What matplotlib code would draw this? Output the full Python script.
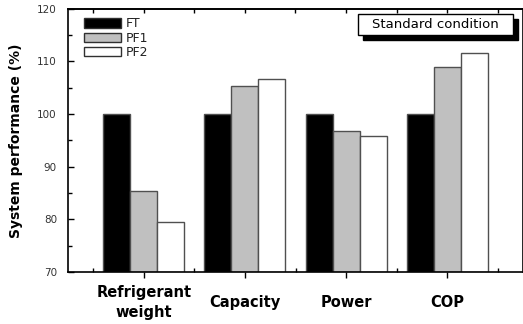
import matplotlib
matplotlib.use("Agg")
import matplotlib.pyplot as plt
import numpy as np
from matplotlib.patches import Rectangle, Patch

categories = ["Refrigerant\nweight", "Capacity", "Power", "COP"]
series_names = ["FT", "PF1", "PF2"]
ft = [100.0, 100.0, 100.0, 100.0]
pf1 = [85.3, 105.3, 96.7, 109.0]
pf2 = [79.4, 106.6, 95.9, 111.5]
colors = ["#000000", "#c0c0c0", "#ffffff"]
yticks = [70, 80, 90, 100, 110, 120]

W, H = 523, 324
fig = plt.figure(figsize=(W / 100, H / 100), dpi=100)
ax = fig.add_axes([68 / W, (324 - 272) / H, 455 / W, (272 - 8.7) / H])

x = np.arange(1, len(categories) + 1)
bw = 0.267
for i, (vals, c) in enumerate(zip([ft, pf1, pf2], colors)):
    ax.bar(x + (i - 1) * bw, np.array(vals) - 70, bottom=70, width=bw,
           color=c, edgecolor="#505050", linewidth=1.0, label=series_names[i], zorder=2)

ax.set_xlim(0.25, 4.75)
ax.set_ylim(70, 120)
ax.set_yticks(yticks)
ax.set_yticks(np.arange(75, 120, 10), minor=True)
ax.set_xticks(x)
ax.set_xticklabels(categories, fontsize=10.5, fontweight="bold", family="DejaVu Sans",
                   linespacing=1.35)
for lab in ax.get_xticklabels():
    lab.set_va("center")
ax.set_xticks(np.arange(0.5, 5, 1.0), minor=True)
ax.tick_params(axis="x", which="major", direction="out", length=4, width=1, pad=18, top=False)
ax.tick_params(axis="x", which="minor", direction="in", length=3, width=1, top=False)
ax.tick_params(axis="y", which="both", direction="in", width=1, right=False,
               labelsize=7.5, labelcolor="#333333", pad=8)
ax.tick_params(axis="y", which="major", length=4)
ax.tick_params(axis="y", which="minor", length=3)

sec = ax.secondary_xaxis("top")
sec.set_xticks(np.arange(0.5, 5, 0.5))
sec.tick_params(direction="in", length=3, width=1, labeltop=False)

for s in ax.spines.values():
    s.set_linewidth(1.2)
sec.spines["top"].set_linewidth(1.2)

ax.set_ylabel("System performance (%)", fontsize=10, fontweight="bold", labelpad=10)

handles = [Patch(facecolor=c, edgecolor="#303030", linewidth=1.0) for c in colors]
leg = ax.legend(handles, series_names, loc="upper left", bbox_to_anchor=(0.015, 1.0),
                frameon=False, fontsize=9, handlelength=3.0, handleheight=0.8,
                labelspacing=0.1, handletextpad=0.35, borderaxespad=0.3)
for t in leg.get_texts():
    t.set_color("#222222")

# Text box with shadow
bx0, bx1, by0, by1 = 358, 513, 14, 35
off = 5
fig.patches.append(Rectangle(((bx0 + off) / W, 1 - (by1 + off) / H), (bx1 - bx0) / W,
                             (by1 - by0) / H, transform=fig.transFigure,
                             facecolor="black", edgecolor="black", zorder=5))
fig.patches.append(Rectangle((bx0 / W, 1 - by1 / H), (bx1 - bx0) / W, (by1 - by0) / H,
                             transform=fig.transFigure, facecolor="white",
                             edgecolor="black", linewidth=1.0, zorder=6))
fig.text((bx0 + bx1) / 2 / W, 1 - (by0 + by1) / 2 / H, "Standard condition",
         ha="center", va="center", fontsize=9.5, zorder=7)

fig.savefig("out.png", dpi=100)
